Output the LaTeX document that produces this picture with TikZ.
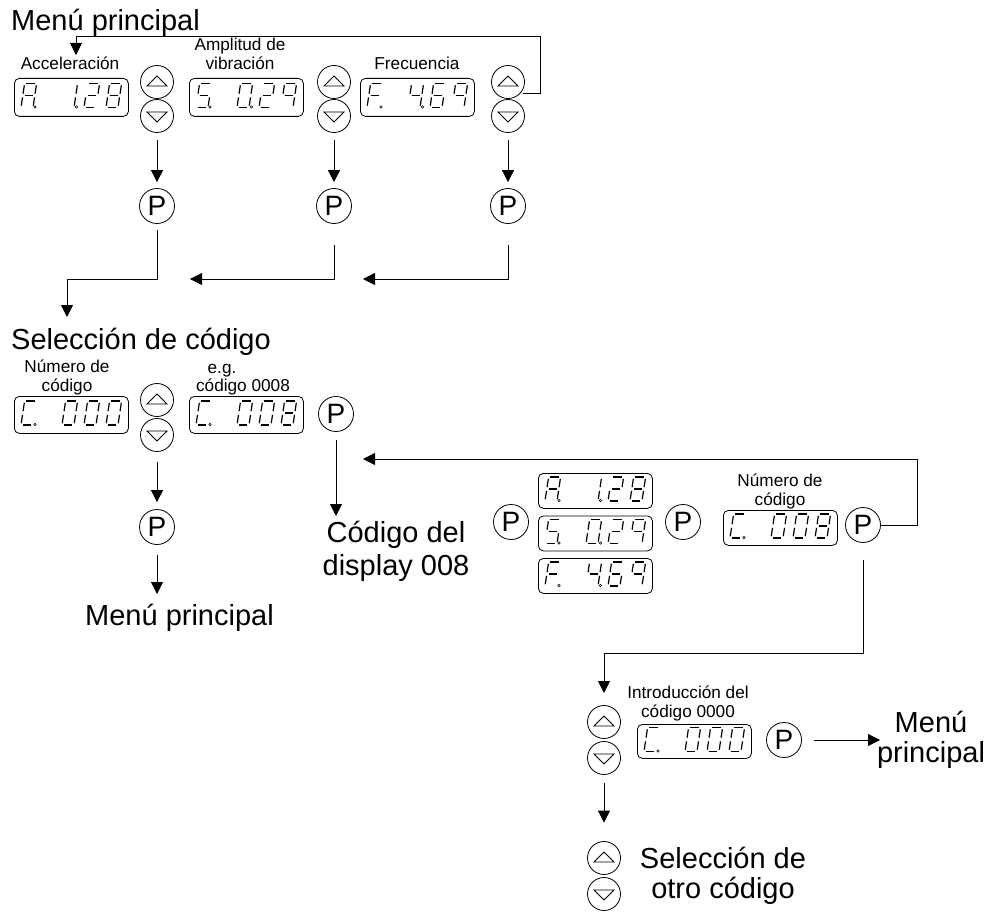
\documentclass[tikz,border=0pt]{standalone}
\usepackage{fontspec}
\setmainfont{Liberation Sans}
\usetikzlibrary{arrows.meta}

\newcommand\lblfont{\fontsize{17.2}{19}\selectfont}
\newcommand\bigfont{\fontsize{29}{31}\selectfont}

% segments of one seven-segment cell (unslanted, 12 x 24, y up)
\def\sgpa{(1.8,24)--(10.2,24)}
\def\sgpb{(12,22.2)--(12,13.8)}
\def\sgpc{(12,10.2)--(12,1.8)}
\def\sgpd{(1.8,0)--(10.2,0)}
\def\sgpe{(0,10.2)--(0,1.8)}
\def\sgpf{(0,22.2)--(0,13.8)}
\def\sgpg{(1.8,12)--(10.2,12)}

% glyphs as segment lists
\def\glA{a,b,c,e,f,g}
\def\glC{a,d,e,f}
\def\glF{a,e,f,g}
\def\glS{a,c,d,f,g}
\def\glZero{a,b,c,d,e,f}
\def\glOne{b,c}
\def\glTwo{a,b,d,e,g}
\def\glFour{b,c,f,g}
\def\glSix{a,c,d,e,f,g}
\def\glEight{a,b,c,d,e,f,g}
\def\glNine{a,b,c,f,g}

% one slanted seven-segment character, bottom-left corner at (#1,#2)
\newcommand\sevenseg[3]{%
  \begin{scope}[shift={(#1,#2)},y=1pt,xslant=0.15]
    \foreach \q in #3 {\edef\segcmd{\noexpand\draw[segline] \csname sgp\q\endcsname;}\segcmd}
  \end{scope}}

% display: name, left, top, height, letter, three digits, decimal point after first digit (1/0)
\newcommand\lcd[9]{%
  \node[lcdbox,minimum height=#4pt,anchor=north west] (#1) at (#2,#3) {};
  \pgfmathsetmacro\lcdbase{#3+#4/2+10.5}
  \sevenseg{#2+7}{\lcdbase}{#5}
  \draw[segdot] (#2+21,\lcdbase-0.5) circle[radius=1.3pt];
  \sevenseg{#2+48}{\lcdbase}{#6}
  \ifnum#9=1 \draw[segdot] (#2+62.5,\lcdbase-0.5) circle[radius=1.3pt];\fi
  \sevenseg{#2+70}{\lcdbase}{#7}
  \sevenseg{#2+92}{\lcdbase}{#8}}

\tikzset{
  segline/.style={line width=1.2pt},
  segdot/.style={line width=0.6pt},
  lcdbox/.style={draw,line width=0.8pt,rounded corners=5pt,minimum width=114pt,inner sep=0pt},
  btnup/.style={circle,draw,line width=0.8pt,minimum size=33pt,inner sep=0pt,
    path picture={\draw[line width=0.8pt] ([xshift=-10pt,yshift=-4pt]path picture bounding box.center)
      -- ++(20pt,0pt) -- ++(-10pt,10pt) -- cycle;}},
  btndown/.style={circle,draw,line width=0.8pt,minimum size=33pt,inner sep=0pt,
    path picture={\draw[line width=0.8pt] ([xshift=-10pt,yshift=4pt]path picture bounding box.center)
      -- ++(20pt,0pt) -- ++(-10pt,-10pt) -- cycle;}},
  pbtn/.style={circle,draw,line width=0.8pt,minimum size=35pt,inner sep=0pt,font=\fontsize{28}{28}\selectfont},
  conn/.style={line width=0.8pt},
  arr/.style={conn,-{Triangle[length=12pt,width=12pt]}},
  lbl/.style={font=\lblfont,align=center,inner sep=0pt,anchor=base},
  big/.style={font=\bigfont,align=center,inner sep=0pt,anchor=base},
}

\begin{document}
\begin{tikzpicture}[x=1pt,y=-1pt]
\fill[white] (0,0) rectangle (987,912);
\useasboundingbox (0,0) rectangle (987,912);

% ---------- main menu ----------
% (multi-line labels are placed by the baseline of their last line)
\node[big,anchor=base west] (mainA) at (11,31) {Menú principal};
\node[lbl] (labA) at (70,70) {Acceleración};
\node[lbl] (labS) at (240,70) {Amplitud de\\vibración};
\node[lbl] (labF) at (417,70) {Frecuencia};
\lcd{dA}{14}{78}{38}{\glA}{\glOne}{\glTwo}{\glEight}{1}
\lcd{dS}{189}{78}{38}{\glS}{\glZero}{\glTwo}{\glNine}{1}
\lcd{dF}{360}{78}{38}{\glF}{\glFour}{\glSix}{\glNine}{1}
\node[btnup] (uA) at (157,82) {};
\node[btndown] (wA) at (157,116) {};
\node[btnup] (uS) at (334,82) {};
\node[btndown] (wS) at (334,116) {};
\node[btnup] (uF) at (508,82) {};
\node[btndown] (wF) at (508,116) {};

\node[pbtn] (pA) at (157,206) {P};
\node[pbtn] (pS) at (334,206) {P};
\node[pbtn] (pF) at (508,206) {P};
\draw[arr] ([yshift=-7pt]wA.south) -- ([yshift=6pt]pA.north);
\draw[arr] ([yshift=-7pt]wS.south) -- ([yshift=6pt]pS.north);
\draw[arr] ([yshift=-7pt]wF.south) -- ([yshift=6pt]pF.north);

% back to the main menu
\coordinate (lpA) at (523,93);
\coordinate (lpB) at (540,36);
\coordinate (lpC) at (76,55);
\draw[arr] (lpA) -| (lpB) -| (lpC);

% on to code selection
\coordinate (jA1) at (67,279);
\coordinate (jA2) at (67,317);
\coordinate (jS) at (190,279);
\coordinate (jF) at (363,279);
\draw[arr] ([yshift=-6.5pt]pA.south) |- (jA1) -- (jA2);
\draw[arr] ([yshift=-21pt]pS.south) |- (jS);
\draw[arr] ([yshift=-21pt]pF.south) |- (jF);

% ---------- code selection ----------
\node[big,anchor=base west] (selA) at (11,349) {Selección de código};
\node[lbl] (labN) at (67,391) {Número de\\código};
\node[lbl] (labEg) at (222,373) {e.g.};
\node[lbl] (labEx) at (243,391) {código 0008};
\lcd{dC}{14}{396}{37}{\glC}{\glZero}{\glZero}{\glZero}{0}
\lcd{dE}{189}{396}{37}{\glC}{\glZero}{\glZero}{\glEight}{0}
\node[btnup] (uC) at (157,400) {};
\node[btndown] (wC) at (157,435) {};
\node[pbtn] (pE) at (336,414) {P};

\coordinate (cdIn) at (336,516);
\draw[arr] ([yshift=-8.5pt]pE.south) -- (cdIn);
\node[big] (codD) at (396,575) {Código del\\[2pt]display 008};

\node[pbtn] (pC) at (157,527) {P};
\coordinate (mmIn) at (157,594);
\draw[arr] ([yshift=-10pt]wC.south) -- ([yshift=7pt]pC.north);
\draw[arr] ([yshift=-10pt]pC.south) -- (mmIn);
\node[big,anchor=base west] (mainB) at (85,625) {Menú principal};

% ---------- code display ----------
\node[pbtn] (pL) at (511,522) {P};
\lcd{sA}{538}{473}{35}{\glA}{\glOne}{\glTwo}{\glEight}{1}
\lcd{sS}{538}{515.5}{35}{\glS}{\glZero}{\glTwo}{\glNine}{1}
\lcd{sF}{538}{558}{35}{\glF}{\glFour}{\glSix}{\glNine}{1}
\node[pbtn] (pM) at (683,522) {P};
\node[lbl] (labN2) at (780,505) {Número de\\código};
\lcd{dE2}{723}{510}{35}{\glC}{\glZero}{\glZero}{\glEight}{0}
\node[pbtn] (pR) at (863,525) {P};

\coordinate (rl1) at (917,459);
\coordinate (rl2) at (363,459);
\draw[arr] (pR.east) -| (rl1) -- (rl2);

\coordinate (dl1) at (604,653);
\coordinate (dl2) at (604,693);
\draw[arr] ([yshift=-17.5pt]pR.south) |- (dl1) -- (dl2);

% ---------- code entry ----------
\node[lbl] (labI) at (688,717) {Introducción del\\código 0000};
\node[btnup] (uI) at (604,722) {};
\node[btndown] (wI) at (604,758) {};
\lcd{dI}{637}{724}{34}{\glC}{\glZero}{\glZero}{\glZero}{0}
\node[pbtn] (pI) at (784,740) {P};
\coordinate (mcIn) at (880,740);
\draw[arr] ([xshift=12pt]pI.east) -- (mcIn);
\node[big] (mainC) at (931,762) {Menú\\[-1pt]principal};

\node[btnup] (uO) at (604,858) {};
\node[btndown] (wO) at (604,894) {};
\draw[arr] ([yshift=-8.5pt]wI.south) -- ([yshift=18.5pt]uO.north);
\node[big] (selB) at (723,898) {Selección de\\[-1pt]otro código};
\end{tikzpicture}
\end{document}
